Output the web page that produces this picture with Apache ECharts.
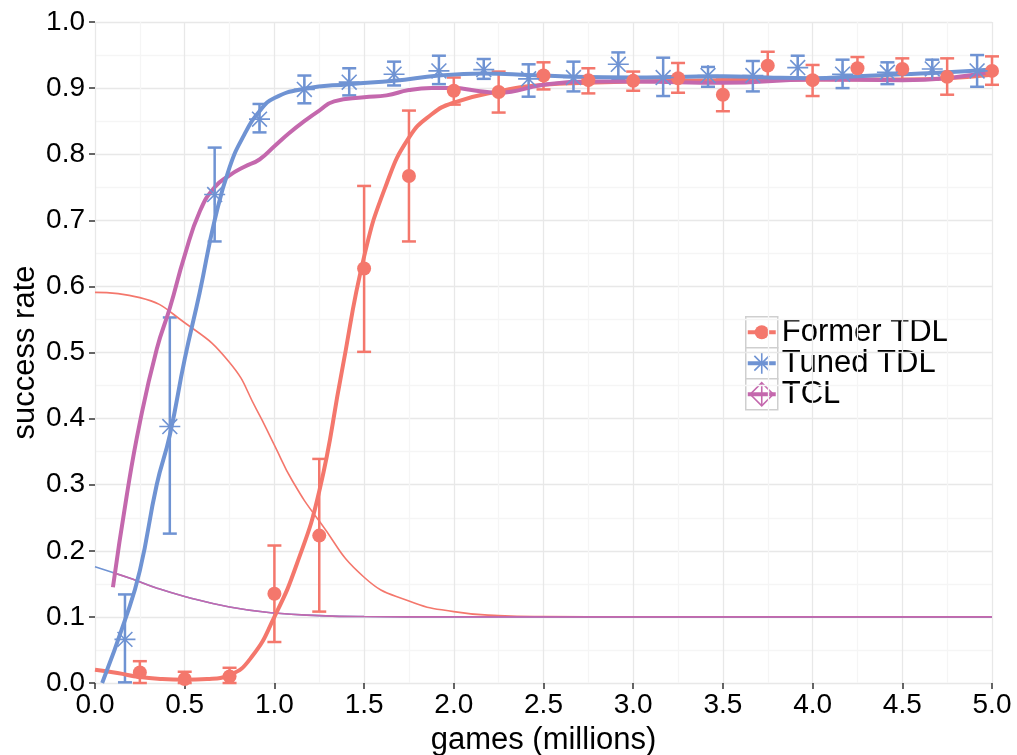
<!DOCTYPE html>
<html>
<head>
<meta charset="utf-8">
<script src="https://cdn.jsdelivr.net/npm/echarts@6/dist/echarts.min.js"></script>
<style>
html, body { margin: 0; background: #fff; }
#chart { width: 1017px; height: 755px; }
</style>
</head>
<body>
<div id="chart"></div>
<script>
// measured points with error bars
var formerX  = [0.25, 0.5, 0.75, 1.0, 1.25, 1.5, 1.75, 2.0, 2.25, 2.5, 2.75, 3.0, 3.25, 3.5, 3.75, 4.0, 4.25, 4.5, 4.75, 5.0];
var formerY  = [0.016, 0.006, 0.010, 0.135, 0.223, 0.627, 0.767, 0.896, 0.894, 0.919, 0.912, 0.911, 0.915, 0.890, 0.934, 0.912, 0.930, 0.929, 0.917, 0.926];
var formerLo = [0.000, 0.000, 0.000, 0.062, 0.108, 0.501, 0.668, 0.875, 0.863, 0.898, 0.892, 0.896, 0.893, 0.865, 0.914, 0.888, 0.913, 0.913, 0.890, 0.905];
var formerHi = [0.033, 0.017, 0.023, 0.208, 0.339, 0.752, 0.866, 0.916, 0.925, 0.939, 0.930, 0.925, 0.938, 0.916, 0.955, 0.935, 0.947, 0.945, 0.945, 0.948];

var tunedX  = [0.167, 0.417, 0.667, 0.917, 1.167, 1.417, 1.667, 1.917, 2.167, 2.417, 2.667, 2.917, 3.167, 3.417, 3.667, 3.917, 4.167, 4.417, 4.667, 4.917];
var tunedY  = [0.066, 0.388, 0.739, 0.853, 0.898, 0.909, 0.921, 0.926, 0.928, 0.914, 0.916, 0.936, 0.916, 0.919, 0.919, 0.931, 0.921, 0.924, 0.929, 0.926];
var tunedLo = [0.001, 0.226, 0.668, 0.833, 0.877, 0.889, 0.904, 0.906, 0.914, 0.887, 0.895, 0.913, 0.888, 0.902, 0.895, 0.913, 0.900, 0.906, 0.913, 0.902];
var tunedHi = [0.134, 0.553, 0.810, 0.876, 0.919, 0.930, 0.940, 0.949, 0.944, 0.936, 0.940, 0.954, 0.946, 0.932, 0.941, 0.949, 0.943, 0.939, 0.943, 0.950];

// fitted curves
var formerFitX = [0.0, 0.125, 0.25, 0.375, 0.5, 0.625, 0.75, 0.875, 1.0, 1.125, 1.25, 1.375, 1.5, 1.625, 1.75, 1.875, 2.0, 2.25, 2.5, 2.75, 3.0, 3.5, 4.0, 4.5, 5.0];
var formerFitY = [0.020, 0.015, 0.009, 0.006, 0.005, 0.006, 0.012, 0.040, 0.100, 0.180, 0.290, 0.470, 0.645, 0.755, 0.825, 0.860, 0.878, 0.895, 0.905, 0.908, 0.910, 0.912, 0.913, 0.913, 0.920];

var tunedFitX = [0.04, 0.167, 0.25, 0.344, 0.417, 0.5, 0.583, 0.667, 0.75, 0.833, 0.917, 1.0, 1.167, 1.417, 1.667, 1.917, 2.167, 2.417, 2.667, 3.0, 3.25, 3.5, 3.75, 4.0, 4.25, 4.5, 4.75, 5.0];
var tunedFitY = [0.000, 0.095, 0.170, 0.300, 0.375, 0.490, 0.590, 0.700, 0.780, 0.830, 0.865, 0.885, 0.899, 0.906, 0.911, 0.919, 0.922, 0.920, 0.917, 0.916, 0.917, 0.918, 0.916, 0.915, 0.918, 0.921, 0.924, 0.928];

var tclFitX = [0.1, 0.176, 0.25, 0.344, 0.418, 0.5, 0.585, 0.667, 0.75, 0.833, 0.917, 1.0, 1.083, 1.167, 1.25, 1.333, 1.5, 1.625, 1.75, 1.875, 2.0, 2.125, 2.25, 2.5, 2.75, 3.0, 3.5, 4.0, 4.5, 4.75, 5.0];
var tclFitY = [0.145, 0.282, 0.394, 0.505, 0.568, 0.647, 0.714, 0.750, 0.768, 0.781, 0.792, 0.812, 0.832, 0.850, 0.866, 0.880, 0.886, 0.889, 0.897, 0.900, 0.900, 0.896, 0.893, 0.905, 0.910, 0.910, 0.908, 0.913, 0.912, 0.915, 0.925];

// thin decay curves
var formerBaseX = [0.0, 0.25, 0.5, 0.75, 0.9, 1.0, 1.1, 1.25, 1.5, 1.75, 2.0, 2.25, 2.5, 3.0, 5.0];
var formerBaseY = [0.591, 0.583, 0.545, 0.485, 0.414, 0.360, 0.306, 0.245, 0.160, 0.124, 0.108, 0.102, 0.1005, 0.100, 0.100];
var tunedBaseX = [0.0, 0.2, 0.35, 0.5, 0.75, 1.0, 1.25, 1.5, 2.0, 5.0];
var tunedBaseY = [0.176, 0.158, 0.143, 0.131, 0.115, 0.106, 0.102, 0.1005, 0.100, 0.100];
var tclBaseX = [0.1, 0.2, 0.35, 0.5, 0.75, 1.0, 1.25, 1.5, 2.0, 5.0];
var tclBaseY = [0.167, 0.158, 0.143, 0.131, 0.115, 0.106, 0.102, 0.1005, 0.100, 0.100];

var xTicks = [0, 0.5, 1.0, 1.5, 2.0, 2.5, 3.0, 3.5, 4.0, 4.5, 5.0];

var RED = '#f4776c';
var BLUE = '#6f93d3';
var PURPLE = '#c468ad';
var FONT = 'Liberation Sans, Arial, sans-serif';

function pairs(xs, ys) {
    return xs.map(function (x, i) { return [x, ys[i]]; });
}
function bars(xs, lo, hi) {
    return xs.map(function (x, i) { return [x, lo[i], hi[i]]; });
}

function errorBar(color) {
    return function (params, api) {
        var x = api.value(0);
        var lo = api.coord([x, api.value(1)]);
        var hi = api.coord([x, api.value(2)]);
        var w = 7;
        var st = { stroke: color, lineWidth: 2.5 };
        return {
            type: 'group',
            children: [
                { type: 'line', shape: { x1: lo[0], y1: lo[1], x2: hi[0], y2: hi[1] }, style: st },
                { type: 'line', shape: { x1: lo[0] - w, y1: lo[1], x2: lo[0] + w, y2: lo[1] }, style: st },
                { type: 'line', shape: { x1: hi[0] - w, y1: hi[1], x2: hi[0] + w, y2: hi[1] }, style: st }
            ]
        };
    };
}

function thinLine(name, data, color) {
    return {
        name: name, type: 'line', data: data, smooth: 0.5,
        symbol: 'none', lineStyle: { color: color, width: 1.6 }, silent: true
    };
}
function fitLine(name, data, color) {
    return {
        name: name, type: 'line', data: data, smooth: 0.5,
        symbol: 'none', lineStyle: { color: color, width: 4 }, silent: true
    };
}

var STAR = 'path://M10,0L10,20M0,10L20,10M2.93,2.93L17.07,17.07M2.93,17.07L17.07,2.93';

var chart = echarts.init(document.getElementById('chart'));

var option = {
    animation: false,
    backgroundColor: '#fff',
    textStyle: { fontFamily: FONT },
    grid: { left: 95, right: 25, top: 22, bottom: 72, containLabel: false, outerBoundsMode: 'none' },
    xAxis: {
        type: 'value', min: 0, max: 5, interval: 0.5,
        name: 'games (millions)', nameLocation: 'middle', nameGap: 42, nameMoveOverlap: false,
        nameTextStyle: { fontSize: 31, color: '#000', fontFamily: FONT },
        axisLine: { show: false },
        axisTick: { show: true, length: 6, lineStyle: { color: '#333', width: 1.5 } },
        axisLabel: {
            fontSize: 28, color: '#000', margin: 8, fontFamily: FONT,
            formatter: function (v) { return xTicks.indexOf(v) >= 0 ? v.toFixed(1) : ''; }
        },
        splitLine: { show: true, lineStyle: { color: '#e8e8e8', width: 1.3 } },
        minorTick: { show: false, splitNumber: 2 },
        minorSplitLine: { show: true, lineStyle: { color: '#f5f5f5', width: 1.3 } }
    },
    yAxis: {
        type: 'value', min: 0, max: 1, interval: 0.1,
        name: 'success rate', nameLocation: 'middle', nameGap: 54, nameRotate: 90, nameMoveOverlap: false,
        nameTextStyle: { fontSize: 31, color: '#000', fontFamily: FONT },
        axisLine: { show: false },
        axisTick: { show: true, length: 6, lineStyle: { color: '#333', width: 1.5 } },
        axisLabel: {
            fontSize: 28, color: '#000', margin: 10, fontFamily: FONT,
            formatter: function (v) { return v.toFixed(1); }
        },
        splitLine: { show: true, lineStyle: { color: '#e8e8e8', width: 1.3 } },
        minorTick: { show: false, splitNumber: 2 },
        minorSplitLine: { show: true, lineStyle: { color: '#f5f5f5', width: 1.3 } }
    },
    series: [
        thinLine('Former TDL base', pairs(formerBaseX, formerBaseY), RED),
        thinLine('Tuned TDL base', pairs(tunedBaseX, tunedBaseY), BLUE),
        thinLine('TCL base', pairs(tclBaseX, tclBaseY), PURPLE),
        fitLine('Former TDL fit', pairs(formerFitX, formerFitY), RED),
        fitLine('TCL fit', pairs(tclFitX, tclFitY), PURPLE),
        fitLine('Tuned TDL fit', pairs(tunedFitX, tunedFitY), BLUE),
        {
            name: 'Former TDL bars', type: 'custom', renderItem: errorBar(RED),
            data: bars(formerX, formerLo, formerHi), encode: { x: 0, y: [1, 2] }, z: 3
        },
        {
            name: 'Tuned TDL bars', type: 'custom', renderItem: errorBar(BLUE),
            data: bars(tunedX, tunedLo, tunedHi), encode: { x: 0, y: [1, 2] }, z: 3
        },
        {
            name: 'Former TDL', type: 'scatter', data: pairs(formerX, formerY),
            symbol: 'circle', symbolSize: 14, itemStyle: { color: RED, opacity: 1 }, z: 4
        },
        {
            name: 'Tuned TDL', type: 'scatter', data: pairs(tunedX, tunedY),
            symbol: STAR, symbolSize: 21,
            itemStyle: { color: 'rgba(0,0,0,0)', borderColor: BLUE, borderWidth: 1.6, opacity: 1 }, z: 4
        }
    ],
    graphic: [{
        type: 'group', left: 745, top: 316,
        children: [
            { type: 'rect', shape: { x: 0, y: 0, width: 32, height: 31 }, style: { fill: '#fff', stroke: '#cfcfcf', lineWidth: 1.5 } },
            { type: 'rect', shape: { x: 0, y: 31, width: 32, height: 31 }, style: { fill: '#fff', stroke: '#cfcfcf', lineWidth: 1.5 } },
            { type: 'rect', shape: { x: 0, y: 62, width: 32, height: 31 }, style: { fill: '#fff', stroke: '#cfcfcf', lineWidth: 1.5 } },
            // Former TDL key
            { type: 'line', shape: { x1: 2, y1: 15.5, x2: 30, y2: 15.5 }, style: { stroke: RED, lineWidth: 4 } },
            { type: 'circle', shape: { cx: 16, cy: 15.5, r: 7 }, style: { fill: RED } },
            // Tuned TDL key
            { type: 'line', shape: { x1: 2, y1: 46.5, x2: 30, y2: 46.5 }, style: { stroke: BLUE, lineWidth: 4 } },
            { type: 'line', shape: { x1: 16, y1: 36, x2: 16, y2: 57 }, style: { stroke: BLUE, lineWidth: 1.6 } },
            { type: 'line', shape: { x1: 8.6, y1: 39.1, x2: 23.4, y2: 53.9 }, style: { stroke: BLUE, lineWidth: 1.6 } },
            { type: 'line', shape: { x1: 8.6, y1: 53.9, x2: 23.4, y2: 39.1 }, style: { stroke: BLUE, lineWidth: 1.6 } },
            // TCL key
            { type: 'line', shape: { x1: 2, y1: 77.5, x2: 30, y2: 77.5 }, style: { stroke: PURPLE, lineWidth: 4 } },
            { type: 'polygon', shape: { points: [[16, 66], [27.5, 77.5], [16, 89], [4.5, 77.5]] }, style: { fill: 'none', stroke: PURPLE, lineWidth: 1.6 } },
            { type: 'line', shape: { x1: 16, y1: 66, x2: 16, y2: 89 }, style: { stroke: PURPLE, lineWidth: 1.6 } },
            // labels
            { type: 'text', x: 36, y: 15.5, style: { text: 'Former TDL', fontSize: 31, fontFamily: FONT, fill: '#000', verticalAlign: 'middle' } },
            { type: 'text', x: 36, y: 46.5, style: { text: 'Tuned TDL', fontSize: 31, fontFamily: FONT, fill: '#000', verticalAlign: 'middle' } },
            { type: 'text', x: 36, y: 77.5, style: { text: 'TCL', fontSize: 31, fontFamily: FONT, fill: '#000', verticalAlign: 'middle' } }
        ]
    }]
};

chart.setOption(option);
</script>
</body>
</html>
